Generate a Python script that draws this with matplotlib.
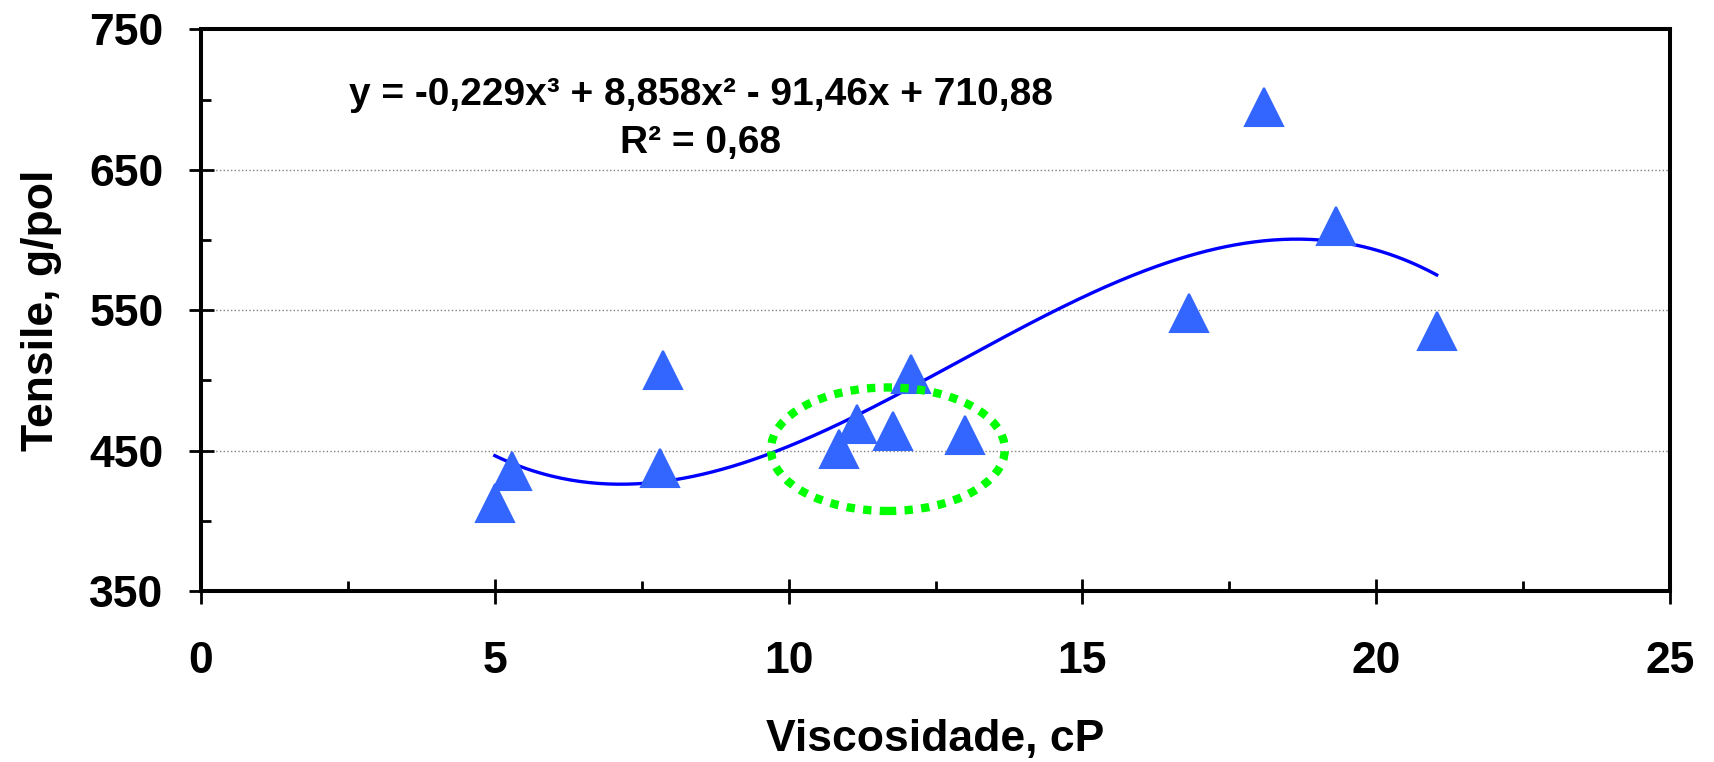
import numpy as np
import matplotlib
matplotlib.use('Agg')
import matplotlib.pyplot as plt
from matplotlib.patches import Ellipse
from matplotlib.ticker import MultipleLocator

# data
viscosity = [5.00, 5.30, 7.87, 7.81, 10.86, 11.16, 11.77, 12.09, 13.00, 16.81, 18.09, 19.32, 21.03]
tensile = [412.6, 435.5, 507.6, 437.9, 451.1, 468.9, 463.9, 504.9, 461.2, 548.3, 694.7, 609.9, 535.5]

# cubic trendline as printed on the chart
trend_coefs = [-0.229, 8.858, -91.46, 710.88]
eq_text = "y = -0,229x³ + 8,858x² - 91,46x + 710,88"
r2_text = "R² = 0,68"

y_ticks = [350, 450, 550, 650, 750]
y_minor = [400, 500, 600, 700]

# highlighted group (center x, center y, width, height)
ring = (11.69, 451.0, 3.98, 88.0)

plt.rcParams['font.family'] = ['Liberation Sans', 'DejaVu Sans']
plt.rcParams['font.weight'] = 'bold'

fig = plt.figure(figsize=(17.14, 7.62), dpi=100)
ax = fig.add_axes([0.1173, 0.2244, 0.857, 0.7369])

xs = np.linspace(min(viscosity), max(viscosity), 300)
ax.plot(xs, np.polyval(trend_coefs, xs), color='#0000FF', lw=2.4, zorder=3)

ax.plot(viscosity, tensile, linestyle='none', marker='^', markersize=27,
        color='#3366FF', markeredgecolor='#3366FF', markeredgewidth=1.5, zorder=4)

ell = Ellipse((ring[0], ring[1]), ring[2], ring[3], fill=False,
              edgecolor='#00FF00', lw=6, linestyle=(0, (1, 1)), zorder=5)
ax.add_patch(ell)

ax.text(0.340, 0.883, eq_text, transform=ax.transAxes, ha='center', va='center',
        fontsize=28, fontweight='bold')
ax.text(0.340, 0.797, r2_text, transform=ax.transAxes, ha='center', va='center',
        fontsize=28, fontweight='bold')

ax.set_xlim(0, 25)
ax.set_ylim(350, 750)
ax.xaxis.set_major_locator(MultipleLocator(5))
ax.xaxis.set_minor_locator(MultipleLocator(2.5))
ax.set_yticks(y_ticks)
ax.set_yticks(y_minor, minor=True)

ax.grid(True, axis='y', which='major', color='#808080', linestyle=':', lw=1.0)
ax.set_axisbelow(True)

for sp in ax.spines.values():
    sp.set_linewidth(2.9)

ax.tick_params(which='major', direction='inout', length=18, width=2.0)
ax.tick_params(which='minor', direction='in', length=7, width=2.0)
ax.tick_params(axis='y', which='major', pad=18, labelsize=32)
ax.tick_params(axis='x', which='major', pad=27, labelsize=32)
for lab in ax.get_xticklabels() + ax.get_yticklabels():
    lab.set_fontweight('bold')

ax.set_xlabel("Viscosidade, cP", fontsize=32, fontweight='bold')
ax.set_ylabel("Tensile, g/pol", fontsize=32, fontweight='bold')
ax.xaxis.set_label_coords(0.5, -0.228)
ax.yaxis.set_label_coords(-0.095, 0.5)

fig.savefig('out.png', dpi=100)
